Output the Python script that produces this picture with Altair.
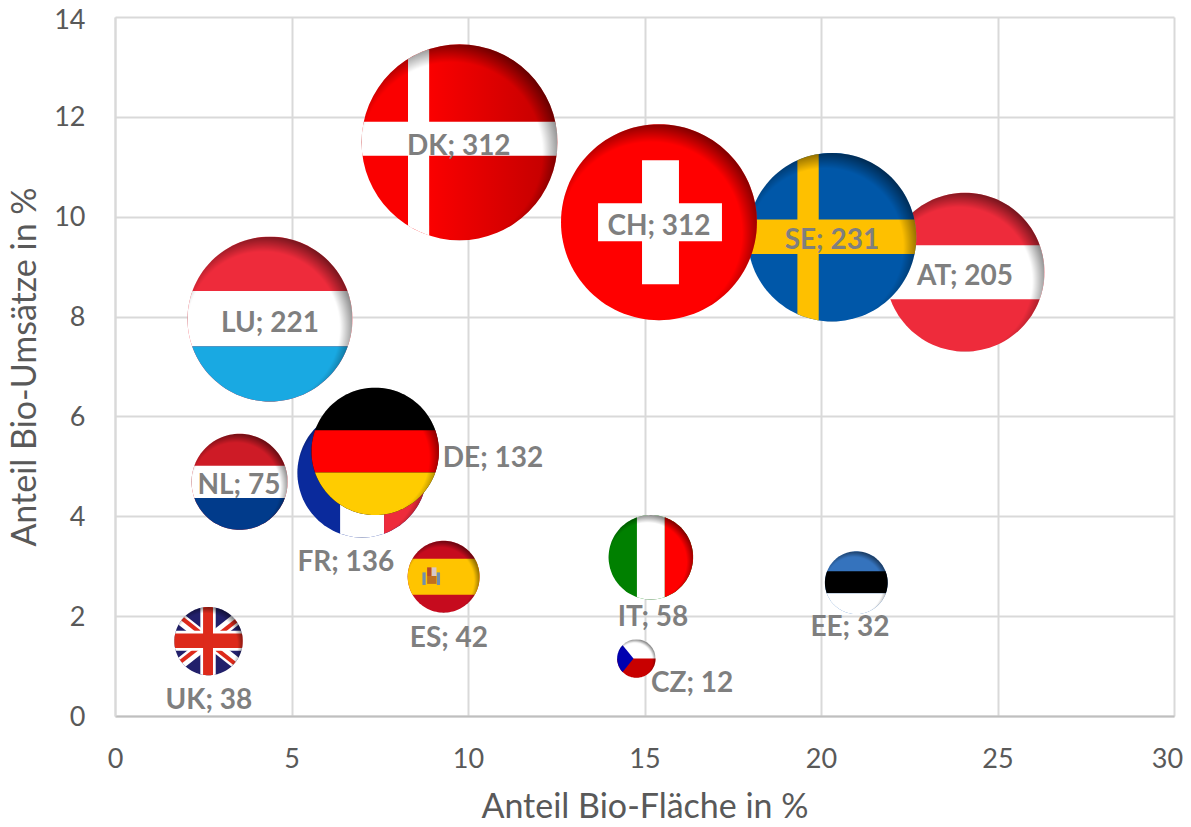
import math
import altair as alt
import pandas as pd

# ---- chart values ----
codes = ["AT", "SE", "CH", "DK", "LU", "FR", "DE", "NL", "ES", "IT", "EE", "UK", "CZ"]
flaeche = [24.08, 20.31, 15.41, 9.76, 4.39, 7.00, 7.37, 3.53, 9.31, 15.18, 21.00, 2.65, 14.77]
umsatz = [8.89, 9.59, 9.89, 11.49, 7.95, 4.87, 5.30, 4.69, 2.79, 3.18, 2.67, 1.50, 1.15]
ausgaben = [205, 231, 312, 312, 221, 136, 132, 75, 42, 58, 32, 38, 12]
label_x = [24.08, 20.31, 15.41, 9.74, 4.39, 6.54, 10.71, 3.51, 9.46, 15.24, 20.82, 2.66, 16.35]
label_y = [8.79, 9.51, 9.79, 11.40, 7.85, 3.06, 5.15, 4.61, 1.54, 1.96, 1.76, 0.30, 0.64]
x_ticks = [0, 5, 10, 15, 20, 25, 30]
y_ticks = [0, 2, 4, 6, 8, 10, 12, 14]


# ---- flag artwork, in the unit square of each bubble (y points down) ----
def rect(x0, x1, y0, y1):
    return [(x0, y0), (x1, y0), (x1, y1), (x0, y1)]


def band(ax, ay, bx, by, w):
    d = math.hypot(bx - ax, by - ay)
    nx, ny = -(by - ay) / d * w, (bx - ax) / d * w
    return [(ax + nx, ay + ny), (bx + nx, by + ny), (bx - nx, by - ny), (ax - nx, ay - ny)]


FULL = rect(-1.2, 1.2, -1.2, 1.2)
RED = "#ee2b3b"
flags = {
    "AT": [(RED, FULL), ("#ffffff", rect(-1.2, 1.2, -0.34, 0.34))],
    "SE": [("#0057a8", FULL), ("#fec000", rect(-0.41, -0.157, -1.2, 1.2)), ("#fec000", rect(-1.2, 1.2, -0.21, 0.2))],
    "CH": [("#ff0000", FULL), ("#ffffff", rect(-0.173, 0.204, -0.633, 0.633)), ("#ffffff", rect(-0.622, 0.643, -0.194, 0.194))],
    "DK": [("#ffffff", rect(-0.526, -0.31, -1.2, 1.2)), ("#ffffff", rect(-1.2, 1.2, -0.21, 0.138))],
    "LU": [(RED, FULL), ("#ffffff", rect(-1.2, 1.2, -0.34, 0.33)), ("#19a9e2", rect(-1.2, 1.2, 0.33, 1.2))],
    "FR": [("#0a2a9c", FULL), ("#ffffff", rect(-0.34, 0.34, -1.2, 1.2)), (RED, rect(0.34, 1.2, -1.2, 1.2))],
    "DE": [("#000000", FULL), ("#ff0000", rect(-1.2, 1.2, -0.33, 0.33)), ("#ffcc00", rect(-1.2, 1.2, 0.33, 1.2))],
    "NL": [("#ce1b26", FULL), ("#ffffff", rect(-1.2, 1.2, -0.337, 0.337)), ("#013b8b", rect(-1.2, 1.2, 0.337, 1.2))],
    "ES": [
        ("#c60b1e", FULL),
        ("#ffc400", rect(-1.2, 1.2, -0.5, 0.5)),
        ("#6f8fb0", rect(-0.59, -0.5, -0.12, 0.23)),
        ("#6f8fb0", rect(-0.19, -0.1, -0.12, 0.23)),
        ("#d8c8c8", rect(-0.34, -0.2, -0.26, -0.02)),
        ("#b84a2a", rect(-0.46, -0.34, -0.26, -0.02)),
        ("#c0701f", rect(-0.46, -0.2, -0.02, 0.2)),
    ],
    "IT": [("#008000", FULL), ("#ffffff", rect(-0.33, 0.33, -1.2, 1.2)), ("#ff0000", rect(0.33, 1.2, -1.2, 1.2))],
    "EE": [("#3573bd", FULL), ("#000000", rect(-1.2, 1.2, -0.365, 0.333)), ("#ffffff", rect(-1.2, 1.2, 0.333, 1.2))],
    "UK": [
        ("#22206b", FULL),
        ("#ffffff", band(-1.2, -0.95, 1.2, 0.95, 0.17)),
        ("#ffffff", band(-1.2, 0.95, 1.2, -0.95, 0.17)),
        ("#dd2a1b", band(-1.2, -1.0, 0.0, -0.05, 0.06)),
        ("#dd2a1b", band(0.0, 0.05, 1.2, 1.0, 0.06)),
        ("#dd2a1b", band(-1.2, 0.9, -0.05, 0.0, 0.06)),
        ("#dd2a1b", band(0.05, 0.0, 1.2, -0.9, 0.06)),
        ("#ffffff", rect(-1.2, 1.2, -0.3, 0.28)),
        ("#ffffff", rect(-0.24, 0.21, -1.2, 1.2)),
        ("#dd2a1b", rect(-1.2, 1.2, -0.22, 0.2)),
        ("#dd2a1b", rect(-0.16, 0.13, -1.2, 1.2)),
    ],
    "CZ": [
        ("#ffffff", FULL),
        ("#c80000", rect(-1.2, 1.2, 0.0, 1.2)),
        ("#0000b0", [(-1.2, -1.3), (-0.15, 0.0), (-1.2, 1.3)]),
    ],
}

N = 120
DISC = [(math.cos(2 * math.pi * i / N), math.sin(2 * math.pi * i / N)) for i in range(N)]


def clip(poly):
    """Cut a convex flag piece down to the round bubble."""
    out = list(poly)
    for i in range(N):
        a, b = DISC[i], DISC[(i + 1) % N]
        side = lambda p: (b[0] - a[0]) * (p[1] - a[1]) - (b[1] - a[1]) * (p[0] - a[0])
        cur, out = out, []
        for j, p in enumerate(cur):
            q = cur[(j + 1) % len(cur)]
            sp, sq = side(p), side(q)
            if sp >= 0:
                out.append(p)
            if sp * sq < 0:
                t = sp / (sp - sq)
                out.append((p[0] + t * (q[0] - p[0]), p[1] + t * (q[1] - p[1])))
        if not out:
            return None
    return "M" + "L".join(f"{x:.3f},{y:.3f}" for x, y in out) + "Z"


AXIS_GREY = "#595959"
GRID = "#d9d9d9"
x_enc = alt.X(
    "x:Q",
    scale=alt.Scale(domain=[0, 30], nice=False, zero=False),
    axis=alt.Axis(
        values=x_ticks, title="Anteil Bio-Fläche in %", grid=True, ticks=False, format="d",
        labelPadding=30, titlePadding=18, domainColor="#bfbfbf", domainWidth=2, labelFlush=False,
        labelOffset=alt.expr("datum.value == 30 ? -7 : 0"),
    ),
)
y_enc = alt.Y(
    "y:Q",
    scale=alt.Scale(domain=[0, 14], nice=False, zero=False),
    axis=alt.Axis(
        values=y_ticks, title="Anteil Bio-Umsätze in %", grid=True, ticks=False, format="d",
        labelPadding=30, titlePadding=11, domainColor=GRID, domainWidth=2, labelFlush=False,
        labelOffset=alt.expr("datum.value == 14 ? 3 : 1"),
    ),
)
size_enc = alt.Size(
    "v:Q", scale=alt.Scale(domain=[0, 312], range=[0, 38376], zero=True), legend=None
)

shade = {
    "gradient": "radial",
    "x1": 0.46, "y1": 0.555, "r1": 0.0,
    "x2": 0.46, "y2": 0.555, "r2": 0.565,
    "stops": [
        {"offset": 0.0, "color": "rgba(0,0,0,0)"},
        {"offset": 0.82, "color": "rgba(0,0,0,0)"},
        {"offset": 1.0, "color": "rgba(0,0,0,0.5)"},
    ],
}
dk_ramp = {
    "gradient": "linear",
    "x1": 0.35, "y1": 0.5, "x2": 1.0, "y2": 0.5,
    "stops": [
        {"offset": 0.0, "color": "#fa0000"},
        {"offset": 1.0, "color": "#c00000"},
    ],
}

layers = []
for code, fx, fy, val in zip(codes, flaeche, umsatz, ausgaben):
    one = pd.DataFrame([{"x": fx, "y": fy, "v": val}])
    if code == "DK":
        layers.append(
            alt.Chart(one)
            .mark_point(filled=True, opacity=1, strokeWidth=0, shape="circle", color=dk_ramp)
            .encode(x=x_enc, y=y_enc, size=size_enc)
        )
    rows = []
    for fill, poly in flags[code]:
        path = clip(poly)
        if path:
            rows.append({"x": fx, "y": fy, "v": val, "fill": fill, "path": path})
    layers.append(
        alt.Chart(pd.DataFrame(rows))
        .mark_point(filled=True, opacity=1, strokeWidth=0)
        .encode(
            x=x_enc, y=y_enc, size=size_enc,
            shape=alt.Shape("path:N", scale=None),
            color=alt.Color("fill:N", scale=None),
        )
    )
    layers.append(
        alt.Chart(one)
        .mark_point(filled=True, opacity=1, strokeWidth=0, shape="circle", color=shade)
        .encode(x=x_enc, y=y_enc, size=size_enc)
    )

labels = pd.DataFrame(
    {
        "x": label_x,
        "y": label_y,
        "t": [f"{c}; {v}" for c, v in zip(codes, ausgaben)],
    }
)
layers.append(
    alt.Chart(labels)
    .mark_text(font="Lato", fontWeight="bold", fontSize=28, color="#7f7f7f", align="center", baseline="middle")
    .encode(x=x_enc, y=y_enc, text="t:N")
)

chart = (
    alt.layer(*layers)
    .properties(
        width=1059,
        height=699,
        autosize=alt.AutoSizeParams(type="none"),
        padding={"left": 107, "top": 9, "right": 9, "bottom": 107},
    )
    .configure_view(stroke=None)
    .configure_axis(
        labelFont="Lato", titleFont="Lato",
        labelFontSize=27, titleFontSize=34,
        labelColor=AXIS_GREY, titleColor=AXIS_GREY,
        titleFontWeight="normal",
        gridColor=GRID, gridWidth=2,
    )
)
chart.save("out.html", embed_options={"renderer": "svg", "actions": False})
